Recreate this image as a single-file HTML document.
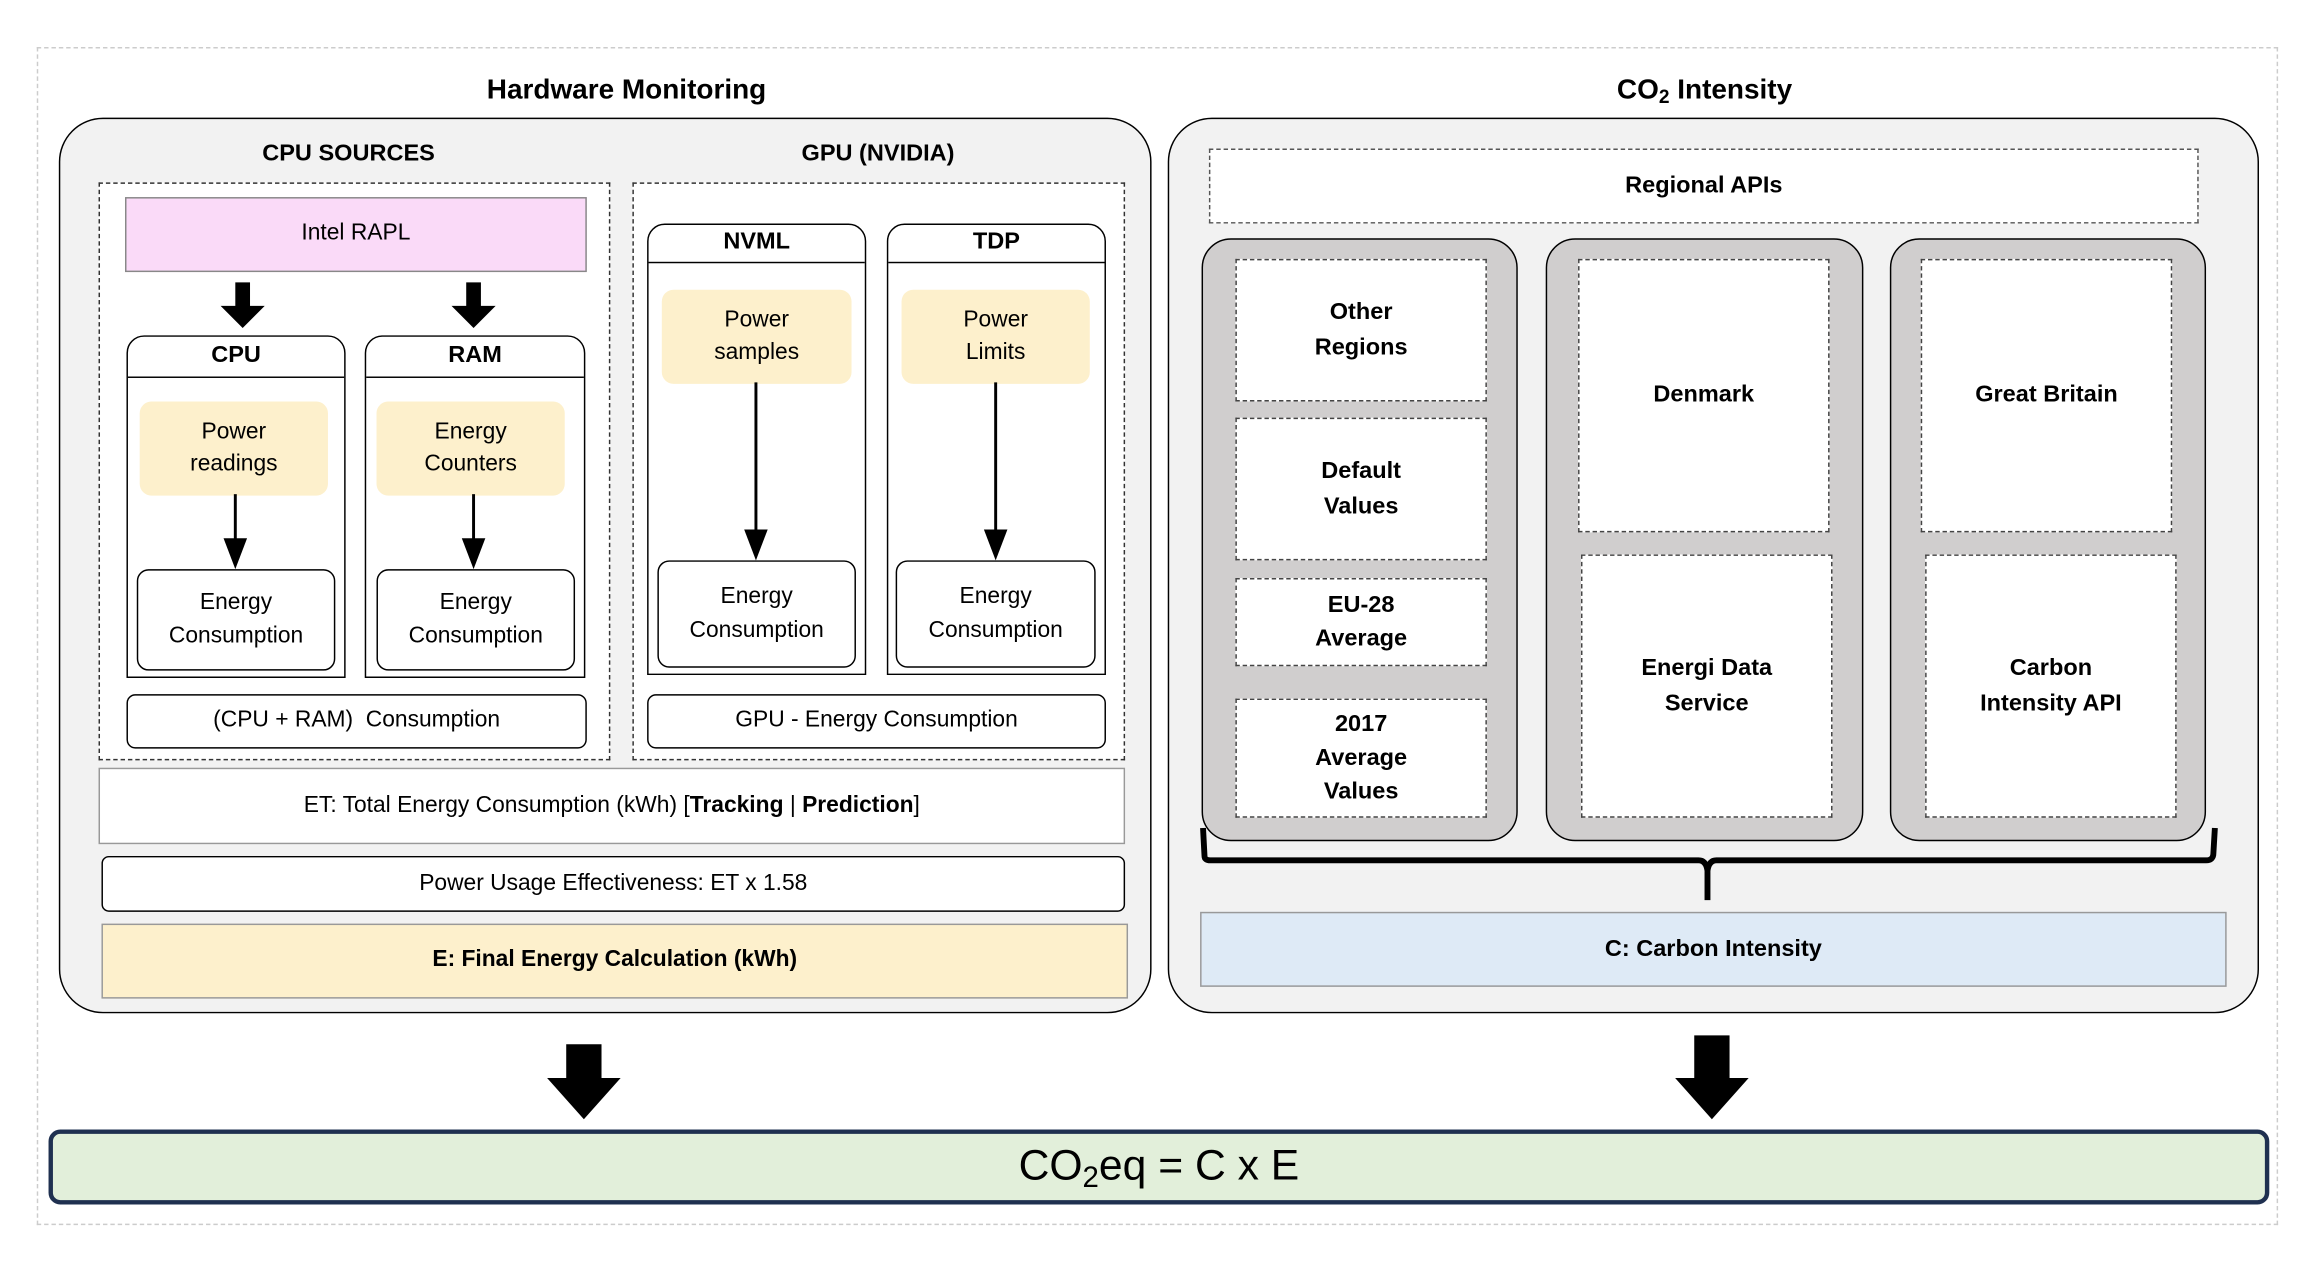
<!DOCTYPE html>
<html><head><meta charset="utf-8"><style>
html,body{margin:0;padding:0;background:#fff;}
body{width:2306px;height:1265px;overflow:hidden;position:relative;}
#s{position:absolute;left:0;top:0;width:1568px;height:860px;transform:scale(1.4707);transform-origin:0 0;font-family:"Liberation Sans",sans-serif;color:#000;}
#s div{position:absolute;box-sizing:border-box;}
.c{display:flex;align-items:center;justify-content:center;text-align:center;line-height:1.45;}
.b{font-weight:bold;}
.t{font-size:15.5px;}
.dash{border:1px dashed #333;background:#fff;}
.y{background:#fdf0cc;border-radius:8px;}
.ec{border:1px solid #000;border-radius:8px;background:#fff;}
.col{border:1px solid #000;border-radius:20px;background:#d0cece;}
.ib{border:1px dashed #444;background:#fff;font-weight:bold;font-size:16px;}
.hdr{border:1px solid #000;border-radius:12px 12px 0 0;background:#fff;}
.hl{left:0;right:0;top:27px;border-top:1px solid #000;}
sub{position:relative;top:0.25em;vertical-align:baseline;line-height:0;}
</style></head><body><div id="s">
<div style="left:25px;top:32px;width:1524px;height:801px;border:1px dashed #ccc;"></div>

<div class="c b" style="left:226px;top:48px;width:400px;height:28px;font-size:19px;">Hardware Monitoring</div>
<div class="c b" style="left:959px;top:48px;width:400px;height:28px;font-size:19px;"><span>CO<sub style="font-size:13px;">2</sub> Intensity</span></div>

<div style="left:40px;top:80px;width:743px;height:609px;border:1px solid #000;border-radius:30px;background:#f2f2f2;"></div>
<div style="left:794px;top:80px;width:742px;height:609px;border:1px solid #000;border-radius:30px;background:#f2f2f2;"></div>

<div class="c b" style="left:137px;top:93px;width:200px;height:24px;font-size:16px;">CPU SOURCES</div>
<div class="c b" style="left:497px;top:93px;width:200px;height:24px;font-size:16px;">GPU (NVIDIA)</div>

<div class="dash" style="left:67px;top:124px;width:348px;height:393px;"></div>
<div class="dash" style="left:430px;top:124px;width:335px;height:393px;"></div>

<div class="c t" style="left:85px;top:134px;width:314px;height:51px;background:#fadaf8;border:1px solid #888;">Intel RAPL</div>

<svg style="position:absolute;left:0;top:0" width="1568" height="860">
<polygon points="160,192 170,192 170,208 180,208 165,223 150,208 160,208" fill="#000"/>
<polygon points="317,192 327,192 327,208 337,208 322,223 307,208 317,208" fill="#000"/>
<polygon points="385,710 409,710 409,733 422,733 397,761 372,733 385,733" fill="#000"/>
<polygon points="1152,704 1176,704 1176,733 1189,733 1164,761 1139,733 1152,733" fill="#000"/>
</svg>

<div class="hdr" style="left:86px;top:228px;width:149px;height:233px;"><div class="hl"></div></div>
<div class="c b" style="left:86px;top:229px;width:149px;height:26px;font-size:16px;">CPU</div>
<div class="hdr" style="left:248px;top:228px;width:150px;height:233px;"><div class="hl"></div></div>
<div class="c b" style="left:248px;top:229px;width:150px;height:26px;font-size:16px;">RAM</div>

<div class="c t y" style="left:95px;top:273px;width:128px;height:64px;">Power<br>readings</div>
<div class="c t y" style="left:256px;top:273px;width:128px;height:64px;">Energy<br>Counters</div>
<div class="c t ec" style="left:93px;top:387px;width:135px;height:69px;">Energy<br>Consumption</div>
<div class="c t ec" style="left:256px;top:387px;width:135px;height:69px;">Energy<br>Consumption</div>

<div class="hdr" style="left:440px;top:152px;width:149px;height:307px;"><div class="hl" style="top:25px"></div></div>
<div class="c b" style="left:440px;top:152px;width:149px;height:25px;font-size:16px;">NVML</div>
<div class="hdr" style="left:603px;top:152px;width:149px;height:307px;"><div class="hl" style="top:25px"></div></div>
<div class="c b" style="left:603px;top:152px;width:149px;height:25px;font-size:16px;">TDP</div>

<div class="c t y" style="left:450px;top:197px;width:129px;height:64px;">Power<br>samples</div>
<div class="c t y" style="left:613px;top:197px;width:128px;height:64px;">Power<br>Limits</div>
<div class="c t ec" style="left:447px;top:381px;width:135px;height:73px;">Energy<br>Consumption</div>
<div class="c t ec" style="left:609px;top:381px;width:136px;height:73px;">Energy<br>Consumption</div>

<svg style="position:absolute;left:0;top:0" width="1568" height="860">
<g stroke="#000" stroke-width="2"><line x1="160" y1="336" x2="160" y2="368"/><line x1="322" y1="336" x2="322" y2="368"/>
<line x1="514" y1="260" x2="514" y2="362"/><line x1="677" y1="260" x2="677" y2="362"/></g>
<g fill="#000"><polygon points="152,366 168,366 160,387"/><polygon points="314,366 330,366 322,387"/>
<polygon points="506,360 522,360 514,381"/><polygon points="669,360 685,360 677,381"/></g>
</svg>

<div class="c t ec" style="left:86px;top:472px;width:313px;height:37px;border-radius:6px;">(CPU + RAM)&nbsp; Consumption</div>
<div class="c t ec" style="left:440px;top:472px;width:312px;height:37px;border-radius:6px;">GPU - Energy Consumption</div>

<div class="c t" style="left:67px;top:522px;width:698px;height:52px;background:#fff;border:1px solid #999;"><span>ET: Total Energy Consumption (kWh) [<b>Tracking</b> | <b>Prediction</b>]</span></div>
<div class="c t ec" style="left:69px;top:582px;width:696px;height:38px;border-radius:5px;">Power Usage Effectiveness: ET x 1.58</div>
<div class="c t b" style="left:69px;top:628px;width:698px;height:51px;background:#fdf0cc;border:1px solid #999;">E: Final Energy Calculation (kWh)</div>

<div class="c b" style="left:822px;top:101px;width:673px;height:51px;border:1px dashed #555;background:#fff;font-size:16px;">Regional APIs</div>

<div class="col" style="left:817px;top:162px;width:215px;height:410px;"></div>
<div class="col" style="left:1051px;top:162px;width:216px;height:410px;"></div>
<div class="col" style="left:1285px;top:162px;width:215px;height:410px;"></div>

<div class="c ib" style="left:840px;top:176px;width:171px;height:97px;">Other<br>Regions</div>
<div class="c ib" style="left:840px;top:284px;width:171px;height:97px;">Default<br>Values</div>
<div class="c ib" style="left:840px;top:393px;width:171px;height:60px;">EU-28<br>Average</div>
<div class="c ib" style="left:840px;top:475px;width:171px;height:81px;">2017<br>Average<br>Values</div>

<div class="c ib" style="left:1073px;top:176px;width:171px;height:186px;">Denmark</div>
<div class="c ib" style="left:1075px;top:377px;width:171px;height:179px;">Energi Data<br>Service</div>
<div class="c ib" style="left:1306px;top:176px;width:171px;height:186px;">Great Britain</div>
<div class="c ib" style="left:1309px;top:377px;width:171px;height:179px;">Carbon<br>Intensity API</div>

<svg style="position:absolute;left:0;top:0" width="1568" height="860">
<path d="M818,563 L819,582 Q819,585 823,585 L1155,585 Q1160,585 1161,592 L1161,612 M1161,592 Q1162,585 1167,585 L1500,585 Q1505,585 1505,580 L1506,563" fill="none" stroke="#000" stroke-width="4"/>
</svg>

<div class="c b" style="left:816px;top:620px;width:698px;height:51px;background:#deeaf6;border:1px solid #999;font-size:16px;">C: Carbon Intensity</div>

<div class="c" style="left:33px;top:768px;width:1510px;height:51px;background:#e2efda;border:3px solid #1f3050;border-radius:8px;font-size:29px;"><span>CO<sub style="font-size:20px;">2</sub>eq = C x E</span></div>
</div></body></html>
